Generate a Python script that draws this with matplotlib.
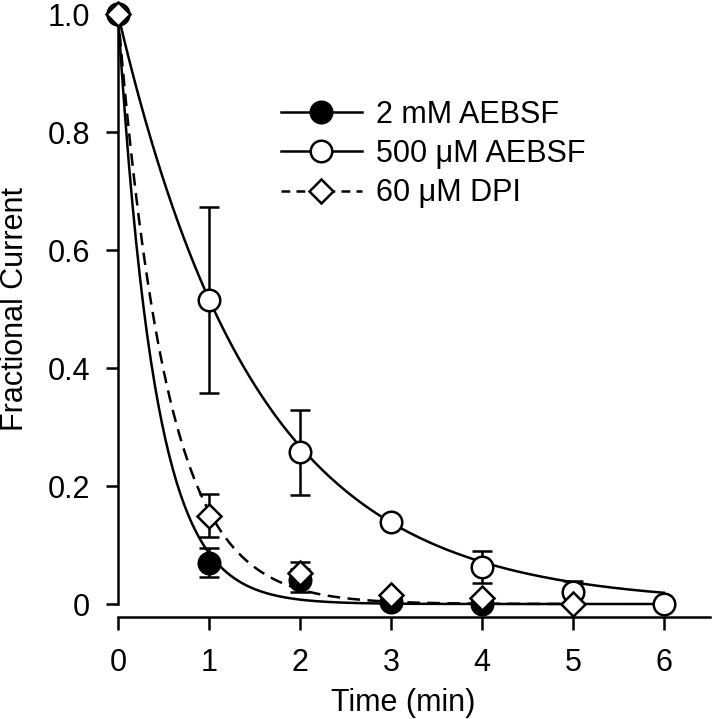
import numpy as np
import matplotlib
matplotlib.use("Agg")
import matplotlib.pyplot as plt

plt.rcParams['font.family'] = ['Liberation Sans', 'DejaVu Sans']

# ---- data ----
t_2mM = [0, 1, 2, 3, 4]
y_2mM = [1.0, 0.070, 0.040, 0.004, 0.0]
e_2mM = [0, 0.025, 0.020, 0, 0]

t_500 = [0, 1, 2, 3, 4, 5, 6]
y_500 = [1.0, 0.515, 0.257, 0.139, 0.063, 0.020, 0.0]
e_500 = [0, 0.158, 0.072, 0.0, 0.027, 0.019, 0]

t_dpi = [0, 1, 2, 3, 4, 5]
y_dpi = [1.0, 0.150, 0.053, 0.016, 0.010, 0.0]
e_dpi = [0, 0.036, 0.018, 0, 0, 0]

# fitted single-exponential rate constants (1/min)
k_2mM = 2.45
k_500 = 0.66
k_dpi = 1.85
fit_end_2mM = 6
fit_end_500 = 6
fit_end_dpi = 5

labels = ["2 mM AEBSF", "500 \u03bcM AEBSF", "60 \u03bcM DPI"]
xticks = [0, 1, 2, 3, 4, 5, 6]
yticks = [0, 0.2, 0.4, 0.6, 0.8, 1.0]
yticklabels = ["0", "0.2", "0.4", "0.6", "0.8", "1.0"]

W, H = 713, 719
fig = plt.figure(figsize=(W / 100, H / 100), dpi=100)
x0, x6 = 118, 664
ppu = (x6 - x0) / 6
xmax = 6.5
ytop, ybot = 14, 604
ax = fig.add_axes([x0 / W, 1 - ybot / H, xmax * ppu / W, (ybot - ytop) / H])
ax.set_xlim(0, xmax)
ax.set_ylim(0, 1.0)

lw = 1.8
fs = 22
ms_c = 15.5
ms_d = 12.3

def fit(k, end):
    tt = np.linspace(0, end, 300)
    return tt, np.exp(-k * tt)

tt, yy = fit(k_2mM, fit_end_2mM)
ax.plot(tt, yy, color='black', lw=lw, zorder=2, clip_on=False)
tt, yy = fit(k_500, fit_end_500)
ax.plot(tt, yy, color='black', lw=lw, zorder=2, clip_on=False)
tt, yy = fit(k_dpi, fit_end_dpi)
ax.plot(tt, yy, color='black', lw=lw, ls=(0, (5, 3)), zorder=2, clip_on=False)

def series(t, y, e, marker, ms, fc, z):
    e = np.array(e)
    m = e > 0
    ax.errorbar(np.array(t)[m], np.array(y)[m], yerr=e[m], fmt='none',
                ecolor='black', elinewidth=lw, capsize=7.5, capthick=lw,
                zorder=z, clip_on=False)
    ax.plot(t, y, ls='none', marker=marker, ms=ms, mfc=fc, mec='black',
            mew=lw, zorder=z + 0.5, clip_on=False)

series(t_2mM, y_2mM, e_2mM, 'o', ms_c, 'black', 3)
series(t_500, y_500, e_500, 'o', ms_c, 'white', 4)
series(t_dpi, y_dpi, e_dpi, 'D', ms_d, 'white', 5)

# legend proxies
h1, = ax.plot([], [], color='black', lw=lw, marker='o', ms=ms_c, mfc='black', mec='black', mew=lw)
h2, = ax.plot([], [], color='black', lw=lw, marker='o', ms=ms_c, mfc='white', mec='black', mew=lw)
h3, = ax.plot([], [], color='black', lw=lw, ls=(0, (3.5, 2.5)), marker='D', ms=ms_d, mfc='white', mec='black', mew=lw)
leg = fig.legend([h1, h2, h3], labels, loc='upper left',
                 bbox_to_anchor=(281 / W, 1 - 100 / H), frameon=False,
                 fontsize=fs, handlelength=2.65, handletextpad=0.45,
                 labelspacing=0.3, borderpad=0, borderaxespad=0)

# spines
for s in ['top', 'right']:
    ax.spines[s].set_visible(False)
ax.spines['left'].set_linewidth(lw)
ax.spines['bottom'].set_linewidth(lw)
ax.spines['bottom'].set_position(('outward', 9.4))
ax.spines['left'].set_bounds(0, 1.0)
ax.spines['bottom'].set_bounds(0, xmax)

ax.set_xticks(xticks)
ax.set_xticklabels([str(v) for v in xticks])
ax.set_yticks(yticks)
ax.set_yticklabels(yticklabels)
ax.tick_params(axis='both', direction='out', length=9, width=lw, labelsize=fs)
ax.tick_params(axis='x', pad=13)
ax.tick_params(axis='y', pad=11)

ax.set_xlabel("Time (min)", fontsize=fs)
ax.set_ylabel("Fractional Current", fontsize=fs)
ax.xaxis.set_label_coords((403 - x0) / (xmax * ppu), -(688 - ybot) / (ybot - ytop))
ax.yaxis.set_label_coords(-(x0 - 30) / (xmax * ppu), 0.5)

fig.savefig("out.png", dpi=100)
